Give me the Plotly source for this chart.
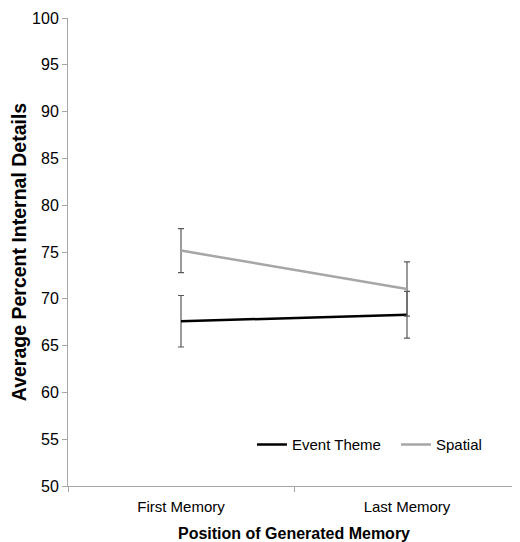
import plotly.graph_objects as go

categories = ["First Memory", "Last Memory"]
event_theme = [67.6, 68.3]
event_theme_err = [2.75, 2.5]
spatial = [75.15, 71.05]
spatial_err = [2.35, 2.9]
y_ticks = [50, 55, 60, 65, 70, 75, 80, 85, 90, 95, 100]

FONT = "Liberation Sans, Arial, sans-serif"

fig = go.Figure()
fig.add_trace(go.Scatter(
    x=categories, y=event_theme, mode="lines", name="Event Theme",
    line=dict(color="#000000", width=2.5),
    error_y=dict(type="data", array=event_theme_err, visible=True,
                 color="#595959", thickness=1.2, width=3),
))
fig.add_trace(go.Scatter(
    x=categories, y=spatial, mode="lines", name="Spatial",
    line=dict(color="#a6a6a6", width=2.5),
    error_y=dict(type="data", array=spatial_err, visible=True,
                 color="#595959", thickness=1.2, width=3),
))

# page body has an 8px default margin, so the figure is offset by 8px
fig.update_layout(
    width=512, height=534,
    margin=dict(l=60, r=0, t=10, b=56, autoexpand=False),
    paper_bgcolor="white", plot_bgcolor="white",
    font=dict(family=FONT, size=15, color="#000000"),
    showlegend=True,
    legend=dict(orientation="h", x=0.407, y=0.088, xanchor="left", yanchor="middle",
                font=dict(family=FONT, size=15), bgcolor="rgba(0,0,0,0)",
                entrywidth=99, tracegroupgap=0),
    xaxis=dict(
        type="category", range=[-0.5, 1.5],
        showline=True, linecolor="#a6a6a6", linewidth=1,
        ticks="outside", tickson="boundaries", ticklen=5, tickcolor="#a6a6a6",
        showgrid=False, zeroline=False, ticklabelstandoff=7,
        tickfont=dict(family=FONT, size=15),
        title=dict(text="<b>Position of Generated Memory</b>",
                   font=dict(family=FONT, size=16), standoff=23),
    ),
    yaxis=dict(
        range=[50, 100], tickvals=y_ticks,
        showline=True, linecolor="#a6a6a6", linewidth=1,
        ticks="outside", ticklen=5, tickcolor="#a6a6a6",
        showgrid=False, zeroline=False,
        tickfont=dict(family=FONT, size=16),
        title=dict(text="<b>Average Percent Internal Details</b>",
                   font=dict(family=FONT, size=19.5), standoff=12),
    ),
)

fig.write_html("out.html")
